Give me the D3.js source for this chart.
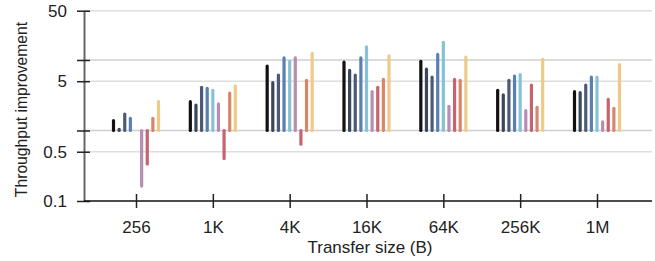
<!DOCTYPE html>
<html>
<head>
<meta charset="utf-8">
<script src="https://cdn.jsdelivr.net/npm/d3@7"></script>
<style>
  body { margin: 0; background: #fff; }
  text { font-family: "Liberation Sans", Arial, sans-serif; }
</style>
</head>
<body>
<svg id="chart" width="655" height="261"></svg>
<script>
// Transfer sizes (x categories)
const sizes = ["256", "1K", "4K", "16K", "64K", "256K", "1M"];
// One colour per series, in drawing order within each group
const seriesColors = ["#111111", "#3b465b", "#4c5a78", "#5a7fb0", "#85c2d6",
                      "#b98db2", "#c7636d", "#d9856a", "#efc987"];
// Throughput improvement per series (rows) across sizes (columns)
const s0 = [1.38, 2.56, 8.2, 9.3, 9.6, 3.72, 3.55];
const s1 = [1.04, 2.30, 4.76, 7.1, 7.4, 3.19, 3.44];
const s2 = [1.71, 4.1, 6.1, 6.1, 5.74, 5.15, 4.42];
const s3 = [1.49, 3.97, 10.7, 10.7, 12.0, 5.93, 5.74];
const s4 = [1.0, 3.72, 9.6, 15.4, 17.8, 6.19, 5.74];
const s5 = [0.163, 2.38, 10.7, 3.55, 2.2, 1.91, 1.33];
const s6 = [0.335, 0.40, 0.64, 4.1, 5.3, 4.42, 2.77];
const s7 = [1.49, 3.4, 5.15, 5.3, 5.15, 2.13, 2.06];
const s8 = [2.56, 4.28, 12.4, 11.4, 11.0, 10.2, 8.58];
const series = [s0, s1, s2, s3, s4, s5, s6, s7, s8];

const yTicks = [50, 10, 5, 1, 0.5, 0.1];
const yLabels = {50: "50", 5: "5", 0.5: "0.5", 0.1: "0.1"};
const gridVals = [50, 10, 5, 1, 0.5];

const axisX = 84, rightX = 652, topY = 10.7, baseY = 201;
const svg = d3.select("#chart");

let y = d3.scaleLog().domain([0.1, 50]).range([baseY, topY]);
let x = d3.scalePoint().domain(sizes).range([136, 597]);
let inner = d3.scalePoint().domain(d3.range(series.length)).range([-22.5, 22.5]);

// gridlines
svg.append("g").selectAll("line").data(gridVals).enter().append("line")
    .attr("x1", axisX).attr("x2", rightX)
    .attr("y1", d => y(d)).attr("y2", d => y(d))
    .attr("stroke", d => d === 1 || d === 10 ? "#cfcfcf" : "#dedede")
    .attr("stroke-width", 1.5);

// bars, drawn from 1 up or down
let groups = svg.append("g").selectAll("g").data(series).enter().append("g");
groups.selectAll("line")
    .data((s, i) => s.map((v, j) => ({v: v, size: sizes[j], k: i})))
    .enter().append("line")
    .attr("x1", d => x(d.size) + inner(d.k))
    .attr("x2", d => x(d.size) + inner(d.k))
    .attr("y1", y(1))
    .attr("y2", d => y(d.v))
    .attr("stroke", d => seriesColors[d.k])
    .attr("stroke-width", 3.2)
    .attr("stroke-linecap", d => Math.abs(d.v - 1) < 0.01 ? "butt" : "round");

// y axis
let yAxis = d3.axisLeft(y).tickValues(yTicks)
    .tickFormat(d => yLabels[d] || "")
    .tickSizeInner(6).tickSizeOuter(0).tickPadding(10);
let yg = svg.append("g").attr("transform", `translate(${axisX},0)`).call(yAxis);
yg.select(".domain").attr("stroke", "#666").attr("stroke-width", 2);
yg.selectAll(".tick line").attr("x1", -7).attr("x2", 6).attr("stroke", "#222").attr("stroke-width", 1.5);
yg.selectAll(".tick text").attr("x", -17).style("font-size", "17px").attr("fill", "#222");

// x axis
let xAxis = d3.axisBottom(x).tickSizeOuter(0).tickSize(6).tickPadding(14);
let xg = svg.append("g").attr("transform", `translate(0,${baseY})`).call(xAxis);
xg.select(".domain").attr("d", `M${axisX},0H${rightX}`).attr("stroke", "#111").attr("stroke-width", 1.5);
xg.selectAll(".tick line").attr("y1", -7).attr("y2", 7).attr("stroke", "#222").attr("stroke-width", 1.5);
xg.selectAll(".tick text").attr("y", 20).style("font-size", "17px").attr("fill", "#222");

// axis titles
svg.append("text")
    .attr("transform", "translate(370, 252.5)")
    .style("text-anchor", "middle")
    .style("font-size", "17px").attr("fill", "#222")
    .text("Transfer size (B)");
svg.append("text")
    .attr("transform", "translate(26.5, 109.5) rotate(-90)")
    .style("text-anchor", "middle")
    .style("font-size", "15.7px").attr("fill", "#222")
    .text("Throughput improvement");
</script>
</body>
</html>
